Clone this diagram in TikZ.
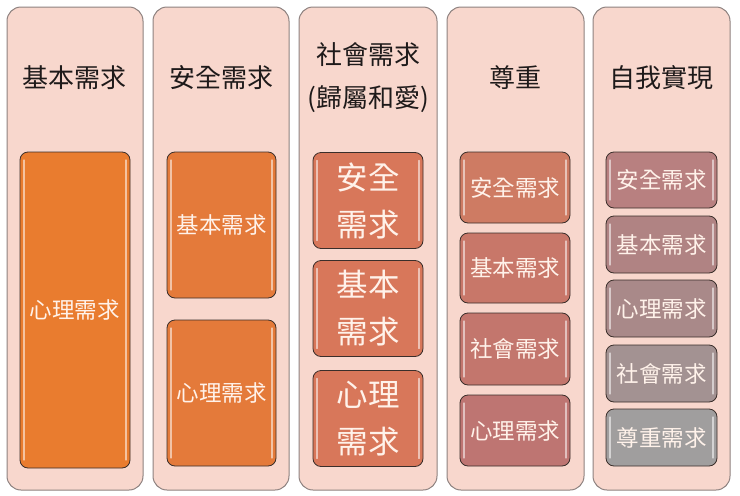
\documentclass[tikz,border=0pt]{standalone}
\usepackage{fontspec}
\setmainfont{Noto Sans CJK TC}
\begin{document}
\begin{tikzpicture}[x=1pt,y=-1pt,
  panel/.style={draw=panelline, fill=panelfill, line width=1pt, rounded corners=14pt,
    minimum width=#1, minimum height=483pt, inner sep=0pt},
  head/.style={text=headtext, font=\fontsize{26}{43}\selectfont, align=center, inner sep=0pt},
  cell/.style args={#1/#2/#3}{draw=cellline, fill=#1, line width=0.8pt, rounded corners=8pt,
    minimum width=#2, minimum height=#3, inner sep=0pt, text=celltext,
    font=\fontsize{22.5}{30}\selectfont, align=center,
    path picture={
      \draw[white, opacity=.55, line width=1.3pt, line cap=round]
        ([xshift=4pt,yshift=-8pt]path picture bounding box.north west) --
        ([xshift=4pt,yshift=8pt]path picture bounding box.south west);
      \draw[white, opacity=.55, line width=1.3pt, line cap=round]
        ([xshift=-4pt,yshift=-8pt]path picture bounding box.north east) --
        ([xshift=-4pt,yshift=8pt]path picture bounding box.south east);
    }},
  big/.style={font=\fontsize{31.5}{47}\selectfont}
]
\definecolor{panelfill}{HTML}{F8D7CD}
\definecolor{panelline}{HTML}{8E8280}
\definecolor{headtext}{HTML}{1E1A1A}
\definecolor{cellline}{HTML}{3A2E2A}
\definecolor{celltext}{HTML}{FFF2EA}
\definecolor{cA}{HTML}{E97C2F}
\definecolor{cB}{HTML}{E47A3A}
\definecolor{cC}{HTML}{D8775A}
\definecolor{cD1}{HTML}{CE7B63}
\definecolor{cD2}{HTML}{C87769}
\definecolor{cD3}{HTML}{C3766D}
\definecolor{cD4}{HTML}{BE7572}
\definecolor{cE1}{HTML}{B88080}
\definecolor{cE2}{HTML}{B08383}
\definecolor{cE3}{HTML}{A98989}
\definecolor{cE4}{HTML}{A39292}
\definecolor{cE5}{HTML}{A09E9E}
\useasboundingbox[fill=white] (0,0) rectangle (740,496);

% panels
\node[panel=136pt] (p1) at (75,248.5) {};
\node[panel=136pt] (p2) at (221,248.5) {};
\node[panel=138pt] (p3) at (368,248.5) {};
\node[panel=137pt] (p4) at (515.5,248.5) {};
\node[panel=137pt] (p5) at (661.5,248.5) {};

% headers
\node[head] (h1) at (75,78) {基本需求};
\node[head] (h2) at (221,78) {安全需求};
\node[head] (h3) at (368,78) {社會需求\\(歸屬和愛)};
\node[head] (h4) at (515.5,78) {尊重};
\node[head] (h5) at (661.5,78) {自我實現};

% column 1
\node[cell=cA/110pt/316pt] (a1) at (75,310) {心理需求};

% column 2
\node[cell=cB/109pt/146pt] (b1) at (221.5,225) {基本需求};
\node[cell=cB/109pt/146pt] (b2) at (221.5,393) {心理需求};

% column 3
\node[cell=cC/110pt/96pt, big] (c1) at (368,200.5) {安全\\需求};
\node[cell=cC/110pt/96pt, big] (c2) at (368,308.5) {基本\\需求};
\node[cell=cC/110pt/96pt, big] (c3) at (368,418.5) {心理\\需求};

% column 4
\node[cell=cD1/110pt/71pt] (d1) at (515,187.5) {安全需求};
\node[cell=cD2/110pt/70pt] (d2) at (515,268) {基本需求};
\node[cell=cD3/110pt/72pt] (d3) at (515,349) {社會需求};
\node[cell=cD4/110pt/71pt] (d4) at (515,430.5) {心理需求};

% column 5
\node[cell=cE1/111pt/56pt] (e1) at (661.5,180) {安全需求};
\node[cell=cE2/111pt/57pt] (e2) at (661.5,244.5) {基本需求};
\node[cell=cE3/111pt/57pt] (e3) at (661.5,308.5) {心理需求};
\node[cell=cE4/111pt/57pt] (e4) at (661.5,373.5) {社會需求};
\node[cell=cE5/111pt/57pt] (e5) at (661.5,437.5) {尊重需求};
\end{tikzpicture}
\end{document}
